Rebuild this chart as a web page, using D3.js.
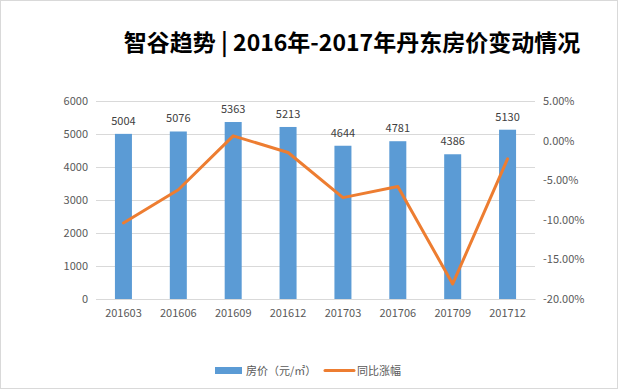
<!DOCTYPE html>
<html><head><meta charset="utf-8">
<script src="https://cdn.jsdelivr.net/npm/d3@7"></script>
<style>body{margin:0;background:#fff;}svg{display:block;font-family:"Noto Sans CJK SC","Microsoft YaHei",sans-serif;}</style>
</head><body>
<svg id="c" width="620" height="390"></svg>
<script>
const categories = ["201603","201606","201609","201612","201703","201706","201709","201712"];
const prices = [5004,5076,5363,5213,4644,4781,4386,5130];
const yoy = [-10.4,-6.2,0.6,-1.5,-7.2,-5.8,-18.1,-2.3];
const leftTicks = [0,1000,2000,3000,4000,5000,6000];
const rightTicks = [-20,-15,-10,-5,0,5];

const svg = d3.select("#c");
svg.append("rect").attr("x",0.5).attr("y",0.5).attr("width",617).attr("height",388).attr("fill","#fff").attr("stroke","#d9d9d9");

svg.append("text").attr("x",352).attr("y",51).attr("text-anchor","middle")
  .attr("font-size",23).attr("font-weight","bold").attr("fill","#000").text("智谷趋势 | 2016年-2017年丹东房价变动情况");

const L=96,R=535,T=101,B=299;
const x = d3.scaleBand().domain(categories).range([L,R]).paddingInner(0.69).paddingOuter(0.345);
const y = d3.scaleLinear().domain([0,6000]).range([B,T]);
const y2 = d3.scaleLinear().domain([-20,5]).range([B,T]);

const g = svg.append("g");
g.selectAll("line.grid").data(leftTicks).join("line").attr("class","grid")
  .attr("x1",L).attr("x2",R).attr("y1",d=>y(d)+0.5).attr("y2",d=>y(d)+0.5)
  .attr("stroke","#d9d9d9").attr("stroke-width",1);

const axL = d3.axisLeft(y).tickValues(leftTicks).tickSize(0).tickPadding(8).tickFormat(d3.format("d"));
const gl = svg.append("g").attr("transform",`translate(${L},0)`).call(axL);
gl.select(".domain").remove();
gl.selectAll("text").attr("font-size",11).attr("fill","#595959").attr("font-family","Noto Sans CJK SC");

const axR = d3.axisRight(y2).tickValues(rightTicks).tickSize(0).tickPadding(8).tickFormat(d=>d.toFixed(2)+"%");
const gr = svg.append("g").attr("transform",`translate(${R},0)`).call(axR);
gr.select(".domain").remove();
gr.selectAll("text").attr("font-size",11).attr("fill","#595959").attr("font-family","Noto Sans CJK SC");

const axB = d3.axisBottom(x).tickSize(0).tickPadding(10);
const gb = svg.append("g").attr("transform",`translate(0,${B})`).call(axB);
gb.select(".domain").attr("stroke","#d9d9d9");
gb.selectAll("text").attr("font-size",11).attr("fill","#595959").attr("font-family","Noto Sans CJK SC");

svg.selectAll("rect.bar").data(prices).join("rect").attr("class","bar")
  .attr("x",(d,i)=>x(categories[i])).attr("width",x.bandwidth())
  .attr("y",d=>y(d)).attr("height",d=>B-y(d)).attr("fill","#5b9bd5");

svg.selectAll("text.lbl").data(prices).join("text").attr("class","lbl")
  .attr("x",(d,i)=>x(categories[i])+x.bandwidth()/2).attr("y",d=>y(d)-9)
  .attr("text-anchor","middle").attr("font-size",11).attr("fill","#404040").text(d=>d);

const line = d3.line().x((d,i)=>x(categories[i])+x.bandwidth()/2).y(d=>y2(d));
svg.append("path").datum(yoy).attr("d",line).attr("fill","none")
  .attr("stroke","#ed7d31").attr("stroke-width",3).attr("stroke-linejoin","round").attr("stroke-linecap","round");

// legend
const lg = svg.append("g");
lg.append("rect").attr("x",215).attr("y",367).attr("width",27).attr("height",7).attr("fill","#5b9bd5");
lg.append("text").attr("x",246).attr("y",374.5).attr("font-size",11).attr("fill","#595959").text("房价（元/㎡）");
lg.append("line").attr("x1",325).attr("x2",354).attr("y1",370.5).attr("y2",370.5).attr("stroke","#ed7d31").attr("stroke-width",3).attr("stroke-linecap","round");
lg.append("text").attr("x",357).attr("y",374.5).attr("font-size",11).attr("fill","#595959").text("同比涨幅");
</script>
</body></html>
